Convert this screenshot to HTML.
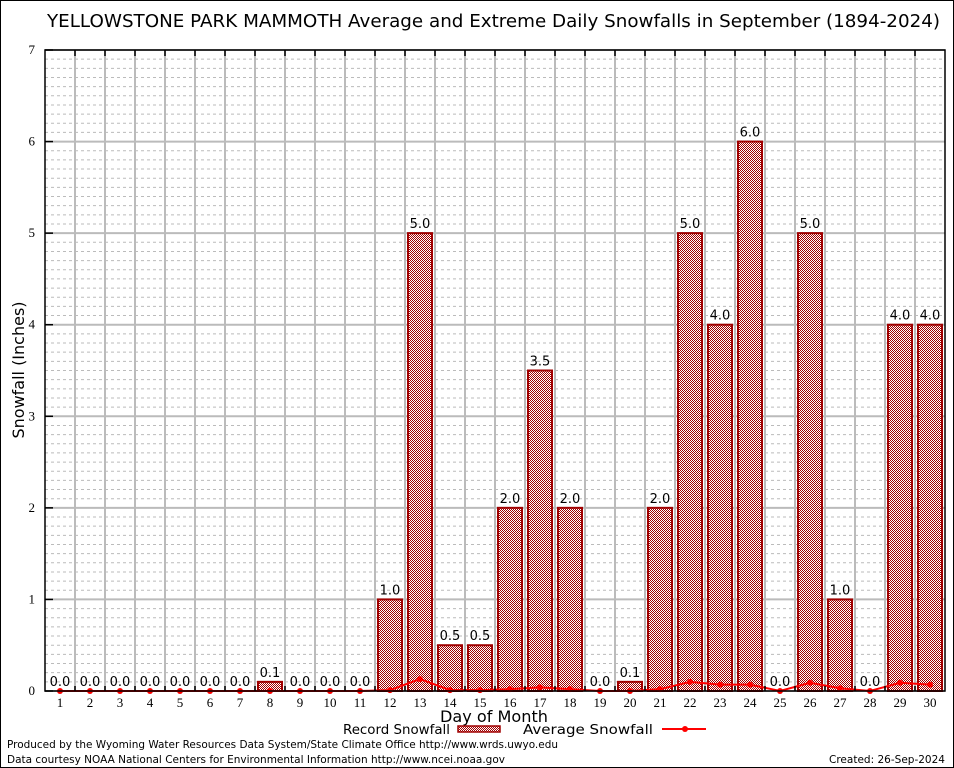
<!DOCTYPE html>
<html><head><meta charset="utf-8">
<style>
html,body{margin:0;padding:0;background:#fff;}
svg{display:block;font-family:"DejaVu Sans","Liberation Sans",sans-serif;}
</style></head>
<body>
<svg id="chart" width="954" height="768" viewBox="0 0 954 768" xmlns="http://www.w3.org/2000/svg">
<defs>
<pattern id="chk" width="2" height="2" patternUnits="userSpaceOnUse">
<rect width="2" height="2" fill="#fff"/>
<rect width="1" height="1" fill="#a00000"/>
<rect x="1" y="1" width="1" height="1" fill="#a00000"/>
</pattern>
</defs>
<rect x="0.5" y="0.5" width="953" height="767" fill="#fff" stroke="#000"/>
<text x="47" y="27" font-size="18" textLength="893" lengthAdjust="spacingAndGlyphs">YELLOWSTONE PARK MAMMOTH Average and Extreme Daily Snowfalls in September (1894-2024)</text>
<g id="grid"></g>
<g id="bars"></g>
<g id="avg"></g>
<rect x="45" y="50" width="900" height="641" fill="none" stroke="#000" stroke-width="1.5"/>
<g id="axes"></g>
<text x="24" y="370" font-size="16" text-anchor="middle" transform="rotate(-90 24 370)">Snowfall (Inches)</text>
<text x="440" y="722" font-size="16" textLength="108" lengthAdjust="spacingAndGlyphs">Day of Month</text>
<g>
<text x="343" y="734" font-size="13" textLength="107" lengthAdjust="spacingAndGlyphs">Record Snowfall</text>
<rect x="458" y="726" width="42" height="6" fill="url(#chk)" stroke="#a00000" stroke-width="1.5"/>
<text x="523" y="734" font-size="13" textLength="130" lengthAdjust="spacingAndGlyphs">Average Snowfall</text>
<line x1="662" y1="729" x2="706" y2="729" stroke="#f00" stroke-width="2"/>
<circle cx="685" cy="729" r="3" fill="#f00"/>
</g>
<text x="7" y="748" font-size="11" textLength="551" lengthAdjust="spacingAndGlyphs">Produced by the Wyoming Water Resources Data System/State Climate Office http://www.wrds.uwyo.edu</text>
<text x="7" y="763" font-size="11" textLength="498" lengthAdjust="spacingAndGlyphs">Data courtesy NOAA National Centers for Environmental Information http://www.ncei.noaa.gov</text>
<text x="829" y="763" font-size="11" textLength="116" lengthAdjust="spacingAndGlyphs">Created: 26-Sep-2024</text>
</svg>
<script>
const days = [1,2,3,4,5,6,7,8,9,10,11,12,13,14,15,16,17,18,19,20,21,22,23,24,25,26,27,28,29,30];
const recordSnow = [0,0,0,0,0,0,0,0.1,0,0,0,1.0,5.0,0.5,0.5,2.0,3.5,2.0,0,0.1,2.0,5.0,4.0,6.0,0,5.0,1.0,0,4.0,4.0];
const avgSnow = [0,0,0,0,0,0,0,0,0,0,0,0.01,0.13,0.01,0.01,0.02,0.04,0.02,0,0,0.02,0.1,0.07,0.07,0,0.09,0.03,0,0.09,0.07];
const yTicks = [0,1,2,3,4,5,6,7];
const NS="http://www.w3.org/2000/svg";
const L=45,R=945,T=50,B=691,YMAX=7;
const x=d=>L+(d-0.5)*(R-L)/days.length;
const y=v=>B-v*(B-T)/YMAX;
function mk(tag,attrs,parent){const e=document.createElementNS(NS,tag);for(const k in attrs)e.setAttribute(k,attrs[k]);parent.appendChild(e);return e;}
const grid=document.getElementById('grid'),bars=document.getElementById('bars'),avg=document.getElementById('avg'),axes=document.getElementById('axes');
for(let i=1;i<YMAX*10;i++){
  if(i%10===0)continue;
  const g=mk('line',{x1:L,x2:R,y1:y(i/10),y2:y(i/10),stroke:'#bbb','stroke-width':1,'stroke-dasharray':'3,3'},grid);
  
  
}
yTicks.forEach(t=>{
  const g=mk('line',{x1:L,x2:R,y1:y(t),y2:y(t),stroke:'#bbb','stroke-width':2},grid);
  
  
  const tk=mk('line',{x1:L,x2:L+8,y1:y(t),y2:y(t),stroke:'#000','stroke-width':1.5},axes);
  
  
  const tx=mk('text',{x:L-10,y:y(t)+4,'font-size':13,'text-anchor':'end','font-family':'Liberation Serif, serif'},axes);
  tx.textContent=t;
  
  
});
for(let i=1;i<days.length;i++){
  const xb=L+i*(R-L)/days.length;
  const g=mk('line',{x1:xb,x2:xb,y1:T,y2:B,stroke:'#bbb','stroke-width':2},grid);
  
  
  const tk=mk('line',{x1:xb,x2:xb,y1:T,y2:T+6,stroke:'#000','stroke-width':1.5},axes);
  
  
  const bt=mk('line',{x1:xb,x2:xb,y1:B,y2:B-5,stroke:'#000','stroke-width':1.5},axes);
  
  
}
days.forEach((d,i)=>{
  const v=recordSnow[i];
  if(v>0){
    const r=mk('rect',{x:x(d)-12,y:y(v),width:24,height:B-y(v),fill:'url(#chk)',stroke:'#a00000','stroke-width':2},bars);
    
    
  }
  const lb=mk('text',{x:x(d),y:y(v)-5,'font-size':13,'text-anchor':'middle'},bars);
  lb.textContent=v.toFixed(1);
  
  
  const xl=mk('text',{x:x(d),y:B+16,'font-size':13,'text-anchor':'middle','font-family':'Liberation Serif, serif'},axes);
  xl.textContent=d;
  
  
});
const pl=mk('polyline',{points:days.map((d,i)=>x(d)+','+y(avgSnow[i])).join(' '),fill:'none',stroke:'#f00','stroke-width':2},avg);


days.forEach((d,i)=>{
  const c=mk('circle',{cx:x(d),cy:y(avgSnow[i]),r:3,fill:'#f00'},avg);
  
  
});
</script>
</body></html>
